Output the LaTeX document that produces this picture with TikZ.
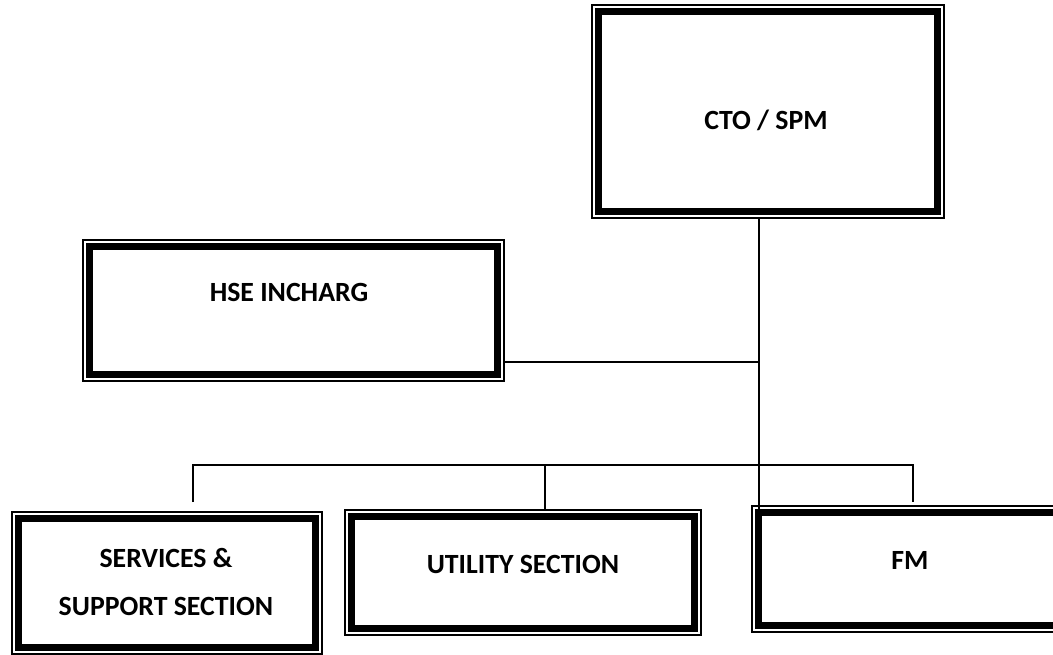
\documentclass[tikz,border=0pt]{standalone}
\usepackage{fontspec}
\setmainfont{Carlito}
\begin{document}
\begin{tikzpicture}[x=1pt,y=1pt,
  orgbox/.style={draw, line width=1.4pt, outer sep=0pt, inner sep=0pt},
  thickframe/.style={line width=7pt},
  txt/.style={font=\bfseries\fontsize{27.8}{48}\selectfont, align=center, inner sep=0pt},
  conn/.style={line width=1.4pt}]
\useasboundingbox (0,0) rectangle (1053,-655);
\clip (0,0) rectangle (1053,-655);
% boxes (outer frame in image pixels)
\node[orgbox, minimum width=352, minimum height=213] (cto) at (768,-111.5) {};
\node[orgbox, minimum width=421, minimum height=141] (hse) at (293.5,-310.5) {};
\node[orgbox, minimum width=310, minimum height=142] (svc) at (167,-583) {};
\node[orgbox, minimum width=356, minimum height=125] (util) at (523,-572.5) {};
\node[orgbox, minimum width=316, minimum height=126] (fm) at (910,-569) {};
\foreach \b in {cto,hse,svc,util,fm}
  \draw[thickframe] ([xshift=6.3,yshift=-6.3]\b.north west) rectangle ([xshift=-6.3,yshift=6.3]\b.south east);
% texts
\node[txt] (ctot) at (766,-120) {CTO / SPM};
\node[txt] (hset) at (289,-292) {HSE INCHARG};
\node[txt] (svct) at (166,-582) {SERVICES \&\\SUPPORT SECTION};
\node[txt] (utilt) at (523,-564) {UTILITY SECTION};
\node[txt] (fmt) at (910,-560) {FM};
% connectors
\coordinate (trunk) at (759,-218);
\coordinate (hj) at (759,-362);
\coordinate (busL) at (193,-465);
\coordinate (busM) at (545,-465);
\coordinate (busR) at (913,-465);
\draw[conn] (trunk |- cto.south) -- ([yshift=-6]trunk |- fm.north);
\draw[conn] (hj -| hse.east) -- (hj);
\draw[conn] ([yshift=10]busL |- svc.north) -- (busL) -- (busR) -- ([yshift=4]busR |- fm.north);
\draw[conn] (busM) -- (busM |- util.north);
\end{tikzpicture}
\end{document}
